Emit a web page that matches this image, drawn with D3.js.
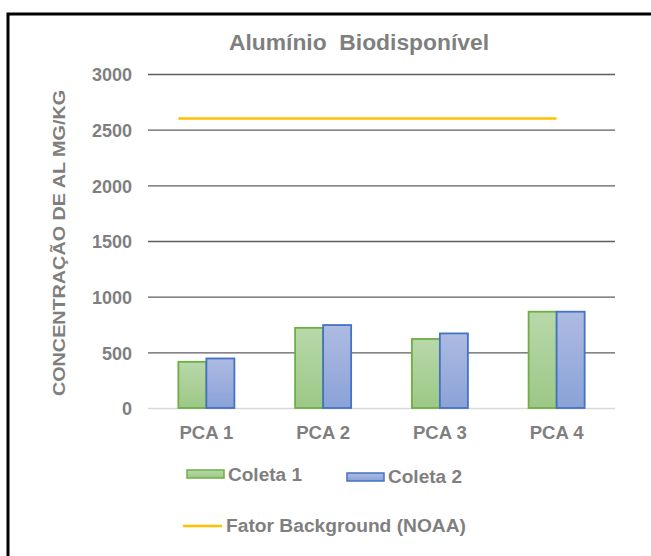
<!DOCTYPE html>
<html>
<head>
<meta charset="utf-8">
<script src="https://cdn.jsdelivr.net/npm/d3@7"></script>
<style>
  html, body { margin: 0; padding: 0; background: #fff; }
  svg { display: block; font-family: "Liberation Sans", Arial, sans-serif; font-weight: bold; }
</style>
</head>
<body>
<svg id="chart" width="651" height="556"></svg>
<script>
// Aluminium concentration per sampling point (mg/kg)
const categories = ["PCA 1", "PCA 2", "PCA 3", "PCA 4"];
const seriesNames = ["Coleta 1", "Coleta 2"];
const coleta1 = [415, 720, 620, 865];
const coleta2 = [445, 745, 670, 865];
const background = 2600;            // NOAA background factor
const yTicks = [0, 500, 1000, 1500, 2000, 2500, 3000];

const svg = d3.select("#chart");
const textColor = "#7f7f7f";

// gradients for the bar fills
const defs = svg.append("defs");
const grads = [
  { id: "gGreen", top: "#b8d8aa", bottom: "#9cc886" },
  { id: "gBlue", top: "#aebbe2", bottom: "#8aa2d8" }
];
grads.forEach(g => {
  const lg = defs.append("linearGradient").attr("id", g.id)
    .attr("x1", 0).attr("y1", 0).attr("x2", 0).attr("y2", 1);
  lg.append("stop").attr("offset", "0%").attr("stop-color", g.top);
  lg.append("stop").attr("offset", "100%").attr("stop-color", g.bottom);
});
const fills = ["url(#gGreen)", "url(#gBlue)"];
const strokes = ["#70ad47", "#4472c4"];

// outer frame
svg.append("rect").attr("x", 8).attr("y", 14).attr("width", 660).attr("height", 560)
  .attr("fill", "none").attr("stroke", "#000").attr("stroke-width", 3);

// scales
const y = d3.scaleLinear().domain([0, 3000]).range([408, 74]);
const x0 = d3.scaleBand().domain(categories).range([148, 615])
  .paddingInner(0.52).paddingOuter(0.26);
const x1 = d3.scaleBand().domain(seriesNames).range([0, x0.bandwidth()]);

// gridlines
const yAxis = d3.axisLeft(y).tickValues(yTicks).tickSize(-(615 - 148)).tickFormat(d3.format("d"));
const gy = svg.append("g").attr("transform", "translate(148,0)").call(yAxis);
gy.select(".domain").remove();
gy.selectAll(".tick line")
  .attr("stroke", d => d === 0 ? "#d9d9d9" : "#5e5e5e")
  .attr("stroke-width", d => d === 0 ? 1.5 : 1.4);
gy.selectAll(".tick text")
  .attr("x", -16).attr("dy", "0.37em")
  .attr("fill", textColor).attr("font-size", 18).attr("font-weight", "bold")
  .attr("font-family", "Liberation Sans, Arial, sans-serif");

// x axis labels
const xAxis = d3.axisBottom(x0).tickSize(0);
const gx = svg.append("g").attr("transform", "translate(0,408)").call(xAxis);
gx.select(".domain").remove();
gx.selectAll(".tick text")
  .attr("y", 31).attr("dy", 0)
  .attr("fill", textColor).attr("font-size", 17.5).attr("font-weight", "bold")
  .attr("font-family", "Liberation Sans, Arial, sans-serif")
  .attr("textLength", 54).attr("lengthAdjust", "spacingAndGlyphs");

// bars
const rows = categories.map((c, i) => ({ cat: c, vals: [coleta1[i], coleta2[i]] }));
const groups = svg.append("g").selectAll("g").data(rows).join("g")
  .attr("transform", d => `translate(${x0(d.cat)},0)`);
groups.selectAll("rect")
  .data(d => d.vals.map((v, j) => ({ v, j })))
  .join("rect")
  .attr("x", d => x1(seriesNames[d.j]))
  .attr("y", d => y(d.v))
  .attr("width", x1.bandwidth())
  .attr("height", d => y(0) - y(d.v))
  .attr("fill", d => fills[d.j])
  .attr("stroke", d => strokes[d.j])
  .attr("stroke-width", 1.8);

// background reference line
svg.append("line")
  .attr("x1", x0(categories[0]))
  .attr("x2", x0(categories[categories.length - 1]) + x0.bandwidth() / 2)
  .attr("y1", y(background)).attr("y2", y(background))
  .attr("stroke", "#ffc000").attr("stroke-width", 2.5);

// title (double space kept)
svg.append("text").attr("x", 359).attr("y", 50).attr("text-anchor", "middle")
  .style("white-space", "pre")
  .attr("fill", textColor).attr("font-size", 22)
  .attr("textLength", 260).attr("lengthAdjust", "spacingAndGlyphs")
  .text("Alumínio  Biodisponível");

// y axis title
svg.append("text")
  .attr("transform", "translate(65,243) rotate(-90)")
  .attr("text-anchor", "middle")
  .attr("fill", textColor).attr("font-size", 17)
  .attr("textLength", 306).attr("lengthAdjust", "spacingAndGlyphs")
  .text("CONCENTRAÇÃO DE AL MG/KG");

// legend
const legend = svg.append("g");
const legItems = [
  { x: 187, y: 470, tx: 228, ty: 481 },
  { x: 347, y: 473, tx: 388, ty: 483 }
];
legItems.forEach((p, j) => {
  legend.append("rect").attr("x", p.x).attr("y", p.y).attr("width", 37).attr("height", 8)
    .attr("fill", fills[j]).attr("stroke", strokes[j]).attr("stroke-width", 1.5);
  legend.append("text").attr("x", p.tx).attr("y", p.ty)
    .attr("fill", textColor).attr("font-size", 17.5)
    .attr("textLength", 74).attr("lengthAdjust", "spacingAndGlyphs")
    .text(seriesNames[j]);
});
legend.append("line").attr("x1", 183).attr("x2", 222).attr("y1", 526).attr("y2", 526)
  .attr("stroke", "#ffc000").attr("stroke-width", 2.5);
legend.append("text").attr("x", 226).attr("y", 532)
  .attr("fill", textColor).attr("font-size", 17.5)
  .attr("textLength", 240).attr("lengthAdjust", "spacingAndGlyphs")
  .text("Fator Background (NOAA)");
</script>
</body>
</html>
